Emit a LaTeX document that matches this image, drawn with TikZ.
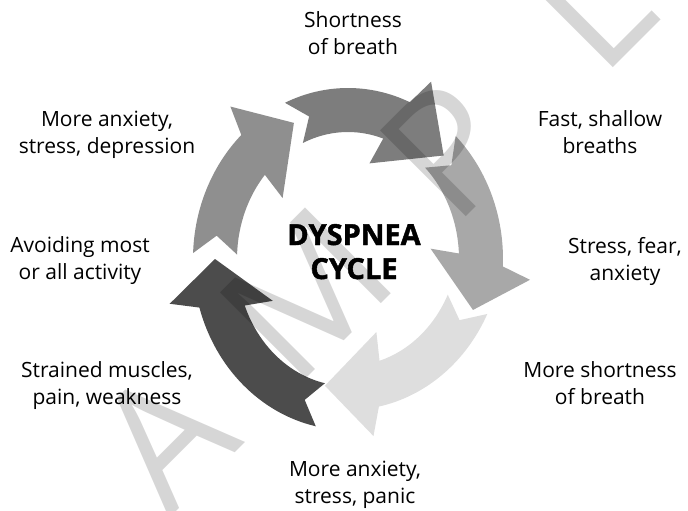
\documentclass[tikz,border=0pt]{standalone}
\usepackage{fontspec}
\setmainfont{Open Sans}
\begin{document}
\begin{tikzpicture}[x=1pt, y=-1pt, line join=round,
    lbl/.style={align=center, anchor=base, inner sep=0pt, font=\fontsize{21}{27}\selectfont},
    wmark/.style={anchor=center, inner sep=0pt, text=black!16, rotate=45, font=\fontsize{170}{170}\selectfont}]
    \def\rxo{155}\def\ryo{171}\def\rxi{111}\def\ryi{127}
    \def\rxh{183}\def\ryh{199}\def\rxk{83}\def\ryk{99}
    \def\rxm{133}\def\rym{149}
    \def\arw#1#2#3#4{\fill[#1] ({\rxo*cos(#2)},{\ryo*sin(#2)}) arc[start angle=#2, end angle={#3+2.5}, x radius=\rxo, y radius=\ryo] -- ({\rxh*cos(#3+6)},{\ryh*sin(#3+6)}) -- ({\rxm*cos(#4)},{\rym*sin(#4)}) -- ({\rxk*cos(#3-6)},{\ryk*sin(#3-6)}) -- ({\rxi*cos(#3-2.5)},{\ryi*sin(#3-2.5)}) arc[start angle={#3-2.5}, end angle=#2, x radius=\rxi, y radius=\ryi] -- ({\rxm*cos(#2+7)},{\rym*sin(#2+7)}) -- cycle;}
    \useasboundingbox (0,0) rectangle (688,511);
    \begin{scope}[shift={(348,259)}]
        \arw{black!51}{-114}{-69}{-44}
        \arw{black!34}{-46}{0}{20}
        \begin{scope}[yshift=20pt]
            \arw{black!13}{26}{76}{100}
        \end{scope}
        \arw{black!70}{102}{161}{180}
        \arw{black!44}{182}{224}{246}
    \end{scope}
    \node[font=\fontsize{29}{34}\selectfont\bfseries\addfontfeature{FakeBold=1.5}, align=center, anchor=base, inner sep=0pt] (cycle) at (354,279) {DYSPNEA\\CYCLE};
    \node[lbl] (breath) at (353,55) {Shortness\\of breath};
    \node[lbl] (fast) at (600,153) {Fast, shallow\\breaths};
    \node[lbl] (fear) at (625,280) {Stress, fear,\\anxiety};
    \node[lbl] (moreshort) at (600,404) {More shortness\\of breath};
    \node[lbl] (panic) at (355,503) {More anxiety,\\stress, panic};
    \node[lbl] (strained) at (107,404) {Strained muscles,\\pain, weakness};
    \node[lbl] (avoid) at (80,279) {Avoiding most\\or all activity};
    \node[lbl] (depress) at (107,153) {More anxiety,\\stress, depression};
    \begin{scope}[blend mode=multiply]
        \foreach \ch/\i in {S/0, A/1, M/2, P/3, L/4, E/5}
            \node[wmark] (wm\i) at ({22+142*\i},{581-144*\i}) {\ch};
    \end{scope}
\end{tikzpicture}
\end{document}
